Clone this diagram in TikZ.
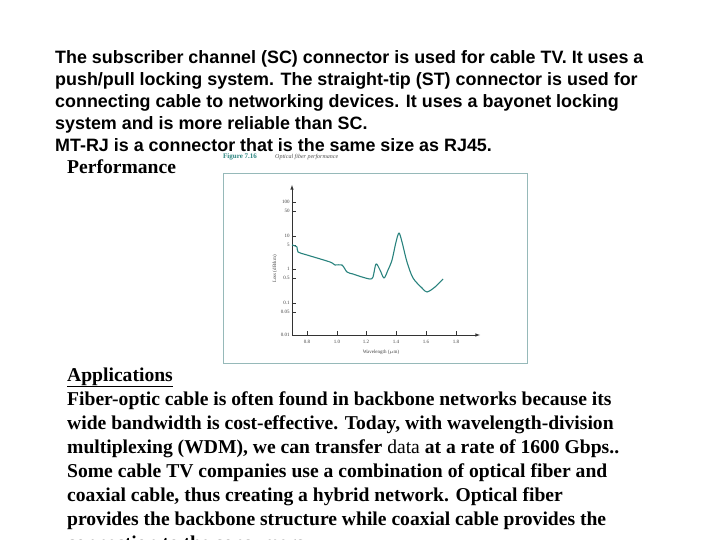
\documentclass[tikz,border=0pt]{standalone}
\usepackage{fontspec}
\setmainfont{Liberation Serif}
\setsansfont{Liberation Sans}
\definecolor{teal1}{RGB}{40,130,125}
\definecolor{boxc}{RGB}{150,185,185}
\begin{document}
\begin{tikzpicture}[x=1pt,y=-1pt,
  ar/.style={font=\sffamily\bfseries\fontsize{17.9}{20}\selectfont,anchor=base west,inner sep=0pt},
  tr/.style={font=\bfseries\fontsize{19.6}{20}\selectfont,anchor=base west,inner sep=0pt},
  tiny/.style={font=\fontsize{5}{6}\selectfont,inner sep=0pt,text=black!75},
  ax/.style={line width=0.6pt,black!80}]
\useasboundingbox (0,0) rectangle (720,540);
\begin{scope}
\clip (0,0) rectangle (720,540);
\node[ar] (l1) at (55,64) {The subscriber channel (SC) connector is used for cable TV. It uses a};
\node[ar] (l2) at (55,86) {push/pull locking system. The straight-tip (ST) connector is used for};
\node[ar] (l3) at (55,108) {connecting cable to networking devices. It uses a bayonet locking};
\node[ar] (l4) at (55,130) {system and is more reliable than SC.};
\node[ar] (l5) at (55,152) {MT-RJ is a connector that is the same size as RJ45.};
\node[tr] (perf) at (67,174) {Performance};
\node[tr] (app) at (67,381) {\underline{Applications}};
\node[tr] (b1) at (67,405) {Fiber-optic cable is often found in backbone networks because its};
\node[tr] (b2) at (67,429) {wide bandwidth is cost-effective. Today, with wavelength-division};
\node[tr] (b3) at (67,453) {multiplexing (WDM), we can transfer \mdseries data\bfseries{} at a rate of 1600 Gbps..};
\node[tr] (b4) at (67,477) {Some cable TV companies use a combination of optical fiber and};
\node[tr] (b5) at (67,501) {coaxial cable, thus creating a hybrid network. Optical fiber};
\node[tr] (b6) at (67,525) {provides the backbone structure while coaxial cable provides the};
\node[tr] (b7) at (67,549) {connection to the consumers.};
\end{scope}
% figure
\node[anchor=base west,inner sep=0pt,font=\bfseries\fontsize{7}{8}\selectfont,text=teal1] (fig) at (223,159) {Figure 7.16};
\node[anchor=base west,inner sep=0pt,font=\itshape\fontsize{6}{7}\selectfont,text=black!70] (cap) at (275,159) {Optical fiber performance};
\node[draw=boxc,line width=0.8pt,minimum width=304pt,minimum height=190pt,anchor=north west,inner sep=0pt] (box) at (223,173) {};
\coordinate (o) at (292,335);
\coordinate (yt) at (292,185);
\coordinate (xt) at (480,335);
\draw[ax,-latex] (o) -- (yt);
\draw[ax,-latex] (o) -- (xt);
\foreach \y/\l in {202/100,211/50,236/10,245/5,269/1,278/0.5,303/0.1,312/0.05,335/0.01}
  \draw[ax] (292,\y) -- (296,\y) node[tiny,anchor=east,xshift=-6pt] {\l};
\foreach \x/\l in {307/0.8,337/1.0,366/1.2,396/1.4,426/1.6,456/1.8}
  \draw[ax] (\x,335) -- (\x,331) node[tiny,anchor=north,yshift=-5pt] at (\x,335) {\l};
\node[tiny,anchor=north] (xl) at (381,350) {Wavelength ($\mu$m)};
\node[tiny,rotate=90] (yl) at (275,269) {Loss (dB/km)};
\draw[teal1,line width=1.1pt,line join=round] plot[smooth,tension=0.5] coordinates {
 (292,245) (297,247) (298,252) (307,255) (330,262) (335,265) (342,265) (347,272)
 (353,274) (362,277) (370,279) (373,277) (376,264) (380,270) (384,278) (388,270)
 (392,260) (396,242) (399,233) (402,242) (407,262) (413,278) (422,288) (427,292)
 (435,287) (443,279)};
\end{tikzpicture}
\end{document}
